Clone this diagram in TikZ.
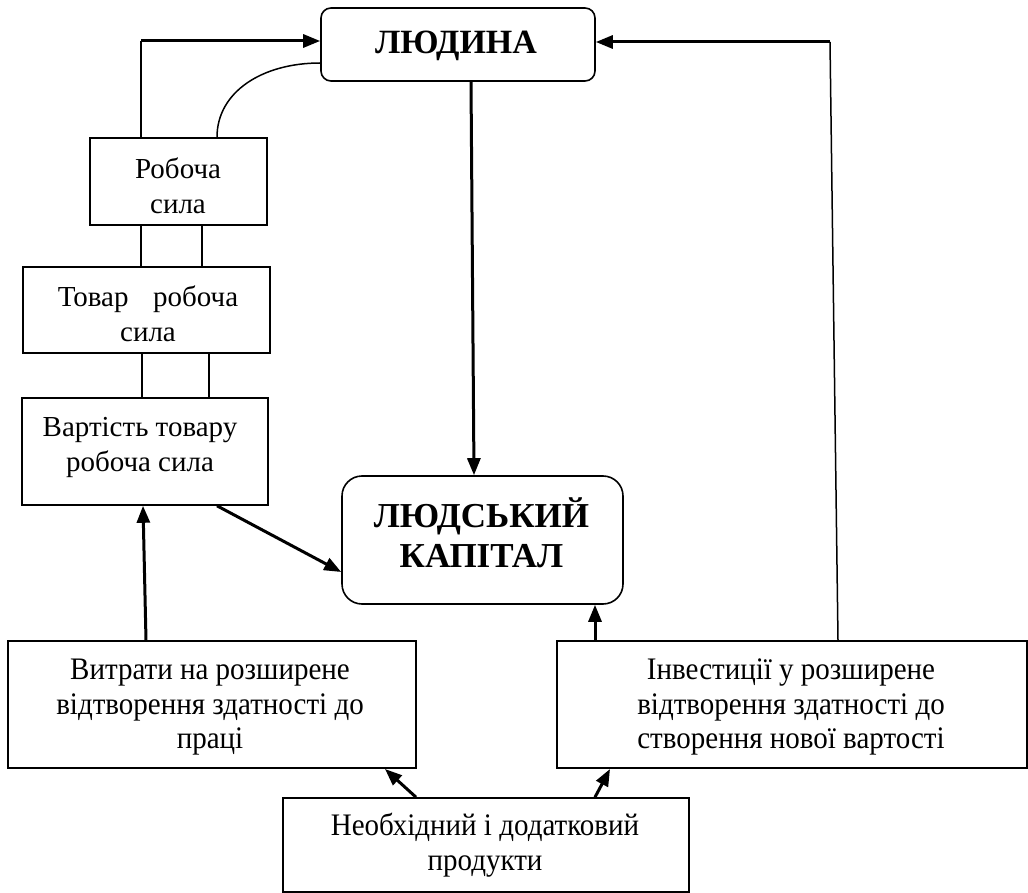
\documentclass[tikz,border=0pt]{standalone}
\usepackage{graphicx}
\usepackage{fontspec}
\setmainfont{Liberation Serif}
\usetikzlibrary{arrows.meta,calc}
\newcommand{\stretchtxt}[1]{\scalebox{1}[1.08]{\fontsize{29}{32.4}\selectfont\begin{tabular}{@{}c@{}}#1\end{tabular}}}
\begin{document}
\begin{tikzpicture}[x=1pt,y=-1pt,
  box/.style={draw,line width=1.6pt,inner sep=0pt},
  txt/.style={align=center,font=\fontsize{29}{35}\selectfont,inner sep=0pt},
  big/.style={align=center,font=\fontsize{35}{40}\selectfont\bfseries,inner sep=0pt},
  arr/.style={line width=3pt,-{Triangle[length=17pt,width=13pt]}},
  ln/.style={line width=1.5pt}]
\useasboundingbox (0,0) rectangle (1028,893);
% boxes
\node[box,rounded corners=10pt,minimum width=274pt,minimum height=73pt] (lud) at (458,44.5) {};
\node[box,minimum width=177pt,minimum height=87pt] (rob) at (178.5,181.5) {};
\node[box,minimum width=247pt,minimum height=86pt] (tov) at (146.5,310) {};
\node[box,minimum width=246pt,minimum height=107pt] (var) at (145,451.5) {};
\node[box,rounded corners=20pt,minimum width=281pt,minimum height=128pt] (lk) at (482.5,540) {};
\node[box,minimum width=408pt,minimum height=127pt] (vyt) at (212,704.5) {};
\node[box,minimum width=470pt,minimum height=127pt] (inv) at (792,704.5) {};
\node[box,minimum width=406pt,minimum height=94pt] (neo) at (486,845) {};
% texts
\node[big,font=\fontsize{34}{40}\selectfont\bfseries] (tlud) at (456,46) {ЛЮДИНА};
\node[txt] (trob) at (178,186) {Робоча\\сила};
\node[txt] (ttov) at (148,314) {Товар\hspace{0.6em} робоча\\сила};
\node[txt] (tvar) at (140,447) {Вартість товару\\робоча сила};
\node[big] (tlk) at (481.5,533) {ЛЮДСЬКИЙ\\КАПІТАЛ};
\node[inner sep=0pt] (tvyt) at (210,707) {\stretchtxt{Витрати на розширене\\відтворення здатності до\\праці}};
\node[inner sep=0pt] (tinv) at (791,707) {\stretchtxt{Інвестиції у розширене\\відтворення здатності до\\створення нової вартості}};
\node[inner sep=0pt] (tneo) at (485,846) {\stretchtxt{Необхідний і додатковий\\продукти}};
% connectors
\coordinate (cl) at (141,41);
\coordinate (cr) at (830,42);
\draw[ln] (rob.north -| cl) -- (cl);
\draw[arr] (cl) -- (cl -| lud.west);
\draw[ln] (inv.north -| 838,0) -- (cr);
\draw[arr] (cr) -- (cr -| lud.east);
\draw[ln] (rob.north -| 217,0) .. controls (217,92) and (262,63) .. (lud.west |- 0,63);
\draw[ln] (rob.south -| 141,0) -- (tov.north -| 141,0);
\draw[ln] (rob.south -| 202,0) -- (tov.north -| 202,0);
\draw[ln] (tov.south -| 142,0) -- (var.north -| 142,0);
\draw[ln] (tov.south -| 209,0) -- (var.north -| 209,0);
\draw[arr] (vyt.north -| 146,0) -- (var.south -| 143,0);
\draw[arr] (var.south -| 217,0) -- (lk.west |- 0,572);
\draw[arr] (lud.south -| 471,0) -- (lk.north -| 474,0);
\draw[arr] (inv.north -| 595,0) -- (lk.south -| 595,0);
\draw[arr] (neo.north -| 416,0) -- (385,769);
\draw[arr] (neo.north -| 595,0) -- (610,769);
\end{tikzpicture}
\end{document}
